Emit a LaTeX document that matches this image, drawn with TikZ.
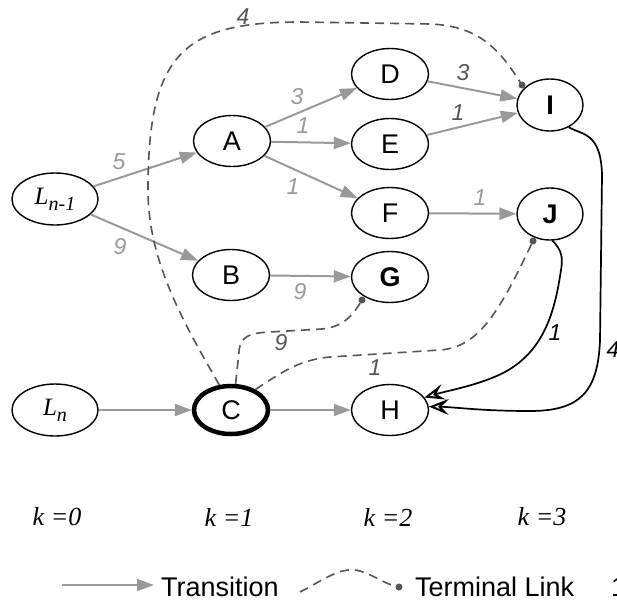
\documentclass[tikz,border=0pt]{standalone}
\usepackage{fontspec}
\setmainfont{Liberation Sans}
\newfontfamily\tms{Liberation Serif}
\usetikzlibrary{arrows.meta,shapes.geometric,calc}
\definecolor{trgray}{HTML}{999999}
\definecolor{tlgray}{HTML}{555555}
\definecolor{lbgray}{HTML}{666666}
\tikzset{
 nd/.style={ellipse, draw, line width=1.4pt, minimum width=77pt, minimum height=51pt, inner sep=0pt, font=\fontsize{27}{30}\selectfont},
 ndb/.style={nd, font=\fontsize{27}{30}\selectfont\bfseries},
 nds/.style={ndb, minimum width=66pt, minimum height=52pt},
 ndl/.style={nd, minimum width=86pt, minimum height=52pt},
 tr/.style={draw=trgray, line width=2pt, -{Triangle[length=17pt,width=12pt]}},
 tl/.style={draw=tlgray, line width=1.6pt, dash pattern=on 9pt off 6pt},
 bk/.style={draw=black, line width=1.7pt, -{Stealth[open,length=20pt,width=16pt,inset=8pt,line width=2pt]}},
 lb/.style={font=\fontsize{23}{26}\selectfont\itshape, text=trgray, inner sep=0pt},
 lbd/.style={lb, text=tlgray},
 lbk/.style={lb, text=black},
 dotn/.style={circle, fill=tlgray, inner sep=0pt, minimum size=7pt},
 kl/.style={font=\tms\fontsize{26}{28}\selectfont\itshape, inner sep=0pt},
 lg/.style={font=\fontsize{27}{30}\selectfont, inner sep=0pt, anchor=west},
}
\begin{document}
\begin{tikzpicture}[x=1pt,y=-1pt]
\useasboundingbox (0,0) rectangle (617,605);
\clip (0,0) rectangle (617,605);
% nodes
\node[ndl] (Lm) at (55,199) {\tms\itshape\fontsize{25}{28}\selectfont L\raisebox{-6pt}{\fontsize{20}{22}\selectfont n-1}};
\node[nd] (A) at (232,141) {A};
\node[nd] (B) at (231,275) {B};
\node[nd] (D) at (390,74) {D};
\node[nd] (E) at (390,144) {E};
\node[nd] (F) at (390,213) {F};
\node[ndb] (G) at (390,277) {G};
\node[nds] (I) at (550,105) {I};
\node[nds] (J) at (550,214) {J};
\node[ndl] (Ln) at (55,410) {\tms\itshape\fontsize{25}{28}\selectfont L\raisebox{-6pt}{\fontsize{20}{22}\selectfont n}};
\node[nd, line width=4.5pt, minimum width=74pt, minimum height=48pt] (C) at (231,410) {C};
\node[nd] (H) at (390,410) {H};
% transitions
\draw[tr] (Lm) -- (A);
\draw[tr] (Lm) -- (B);
\draw[tr] (A) -- (D);
\draw[tr] (A) -- (E);
\draw[tr] (A) -- (F);
\draw[tr] (D) -- (I);
\draw[tr] (E) -- (I);
\draw[tr] (F) -- (J);
\draw[tr] (B) -- (G);
\draw[tr] (Ln) -- (C);
\draw[tr] (C) -- (H);
% terminal links
\coordinate (id) at ($(I)+(-28,-20)$);
\coordinate (gd) at ($(G)+(-28,23)$);
\coordinate (jd) at ($(J)+(-17,27)$);
\draw[tl] (C.115) .. controls (182,320) and (148,260) .. (148,190)
  .. controls (148,55) and (182,22) .. (300,22) -- (430,24)
  .. controls (480,26) and (500,50) .. (id);
\draw[tl] (C.80) -- (239,352) .. controls (240,336) and (250,333) .. (270,332)
  -- (322,329) .. controls (345,327) and (355,312) .. (gd);
\draw[tl] (C.40) .. controls (285,370) and (300,360) .. (330,357)
  -- (440,350) .. controls (480,347) and (500,310) .. (jd);
\node[dotn] (idot) at (id) {};
\node[dotn] (gdot) at (gd) {};
\node[dotn] (jdot) at (jd) {};
% black links
\draw[bk] (J.-85) .. controls (562,250) and (563,258) .. (561,270)
  .. controls (555,310) and (545,350) .. (505,372)
  .. controls (480,385) and (450,390) .. (H.20);
\draw[bk] (I.-50) .. controls (582,135) and (601,132) .. (602,175)
  -- (600,340) .. controls (598,392) and (580,411) .. (530,411)
  .. controls (480,411) and (455,407) .. (H.5);
% labels
\node[lbd] (l4) at (243,17) {4};
\node[lb] (l5) at (119,162) {5};
\node[lb] (l9a) at (120,247) {9};
\node[lb] (l3a) at (297,97) {3};
\node[lb] (l1a) at (303,126) {1};
\node[lb] (l1b) at (293,187) {1};
\node[lbd] (l3b) at (463,73) {3};
\node[lbd] (l1c) at (458,113) {1};
\node[lb] (l1d) at (480,198) {1};
\node[lb] (l9b) at (300,292) {9};
\node[lbd] (l9c) at (281,343) {9};
\node[lbd] (l1e) at (375,368) {1};
\node[lbk] (l1f) at (555,333) {1};
\node[lbk] (l4b) at (613,350) {4};
% k labels
\node[kl] (k0) at (57,517) {k =0};
\node[kl] (k1) at (229,517) {k =1};
\node[kl] (k2) at (388,517) {k =2};
\node[kl] (k3) at (542,517) {k =3};
% legend
\coordinate (ta) at (62,585);
\coordinate (tb) at (154,585);
\draw[tr] (ta) -- (tb);
\node[lg] (tt) at (161,587) {Transition};
\coordinate (da) at (300,592);
\coordinate (db) at (399,587);
\draw[tl] (da) .. controls (320,582) and (338,568) .. (355,570) .. controls (370,572) and (385,585) .. (db);
\node[dotn] (ddot) at (db) {};
\node[lg] (tlk) at (415,587) {Terminal Link};
\node[lg] (t1) at (611,587) {1};
\end{tikzpicture}
\end{document}
